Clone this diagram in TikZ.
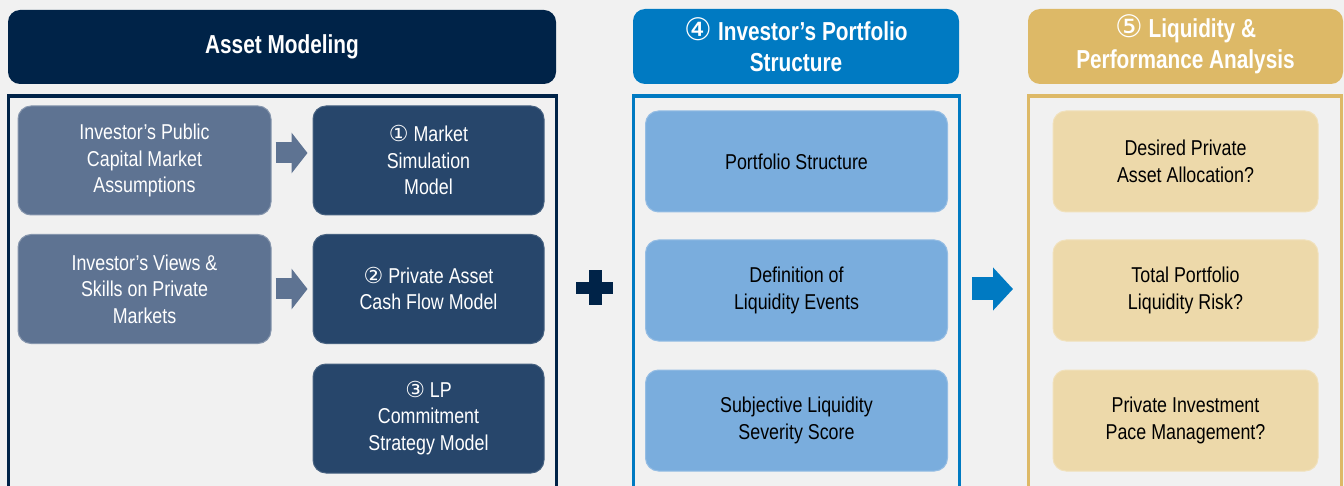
\documentclass[tikz,border=0pt]{standalone}
\usepackage{fontspec}
\setmainfont{Liberation Sans}[FakeStretch=0.83]
\newfontfamily\hdfont{Liberation Sans}[FakeStretch=0.8]
\newfontfamily\circfont{DejaVu Sans}
\usetikzlibrary{arrows.meta,calc}
\definecolor{bgc}{RGB}{241,241,241}
\definecolor{navy}{RGB}{0,35,72}
\definecolor{slate}{RGB}{94,115,146}
\definecolor{dbox}{RGB}{39,70,107}
\definecolor{mblue}{RGB}{0,122,194}
\definecolor{lblue}{RGB}{122,173,221}
\definecolor{gold}{RGB}{221,185,103}
\definecolor{lgold}{RGB}{237,217,170}
\newcommand{\circnum}[1]{\smash{\circfont\mdseries\fontsize{22}{26.5}\selectfont #1}}
\newcommand{\hdcirc}[1]{\smash{\circfont\mdseries\fontsize{31}{30.5}\selectfont #1}}
\begin{document}
\begin{tikzpicture}[x=1pt,y=-1pt,
  tbox/.style={rectangle, rounded corners=13pt, inner sep=0pt, align=center, line width=1pt,
    font=\fontsize{21.5}{26.5}\selectfont},
  slatebox/.style={tbox, fill=slate, draw=slate!75!white, text=white, minimum width=253pt, minimum height=109pt},
  darkbox/.style={tbox, fill=dbox, draw=dbox!85!white, text=white, minimum width=231pt, minimum height=109pt},
  lbbox/.style={tbox, fill=lblue, draw=lblue!80!white, text=black, minimum width=302pt, minimum height=101pt},
  lgbox/.style={tbox, fill=lgold, draw=lgold!80!white, text=black, minimum width=265pt, minimum height=101pt},
  header/.style={rectangle, rounded corners=12pt, inner sep=0pt, align=center, text=white,
    font=\hdfont\bfseries\fontsize{26}{30.5}\selectfont},
  framebox/.style={rectangle, draw=#1, line width=3.5pt, anchor=north, inner sep=0pt, minimum height=430pt},
  blockarrow/.style={line width=#1}
]
\fill[bgc] (0,0) rectangle (1344,486);
\useasboundingbox (0,0) rectangle (1344,486);
\clip (0,0) rectangle (1344,486);

% headers
\node[header, fill=navy, minimum width=548pt, minimum height=74pt] (hdA) at (282,47) {Asset Modeling};
\node[header, fill=mblue, minimum width=326pt, minimum height=75pt] (hdB) at (796,46.5)
  {\hdcirc{④} Investor’s Portfolio\\Structure};
\node[header, fill=gold, minimum width=315pt, minimum height=75pt] (hdC) at (1185.5,46.5)
  {\hdcirc{⑤} Liquidity \&\\Performance Analysis};

% frames
\node[framebox=navy, minimum width=548pt] (fA) at (282.5,94.5) {};
\node[framebox=mblue, minimum width=326pt] (fB) at (796.5,94.5) {};
\node[framebox=gold, minimum width=313pt] (fC) at (1185,94.5) {};

% asset modeling boxes
\node[slatebox] (a1) at (144.5,160.5) {Investor’s Public\\Capital Market\\Assumptions};
\node[darkbox] (m1) at (428.5,160.5) {\circnum{①} Market\\Simulation\\Model};
\node[slatebox] (a2) at (144.5,289) {Investor’s Views \&\\Skills on Private\\Markets};
\node[darkbox] (m2) at (428.5,289) {\circnum{②} Private Asset\\Cash Flow Model};
\node[darkbox] (m3) at (428.5,418.5) {\circnum{③} LP\\Commitment\\Strategy Model};

% portfolio structure boxes
\node[lbbox] (b1) at (796.5,161.5) {Portfolio Structure};
\node[lbbox] (b2) at (796.5,290.5) {Definition of\\Liquidity Events};
\node[lbbox] (b3) at (796.5,420.5) {Subjective Liquidity\\Severity Score};

% liquidity boxes
\node[lgbox] (c1) at (1185.5,161.5) {Desired Private\\Asset Allocation?};
\node[lgbox] (c2) at (1185.5,290.5) {Total Portfolio\\Liquidity Risk?};
\node[lgbox] (c3) at (1185.5,420.5) {Private Investment\\Pace Management?};

% block arrows
\draw[slate, blockarrow=21pt, -{Triangle[length=16pt,width=40pt]}]
  ([shift={(4,-7.5)}]a1.east) -- ([shift={(-5,-7.5)}]m1.west);
\draw[slate, blockarrow=21pt, -{Triangle[length=16pt,width=40pt]}]
  ([xshift=4pt]a2.east) -- ([xshift=-5pt]m2.west);
\draw[mblue, blockarrow=23pt, -{Triangle[length=20pt,width=42pt]}]
  ([shift={(10.75,-1.5)}]fB.east |- b2.center) -- ([shift={(-13.75,-1.5)}]fC.west |- b2.center);

% plus sign
\fill[navy] (576,282) rectangle (613,294);
\fill[navy] (588.5,270) rectangle (601.5,305);
\end{tikzpicture}
\end{document}
